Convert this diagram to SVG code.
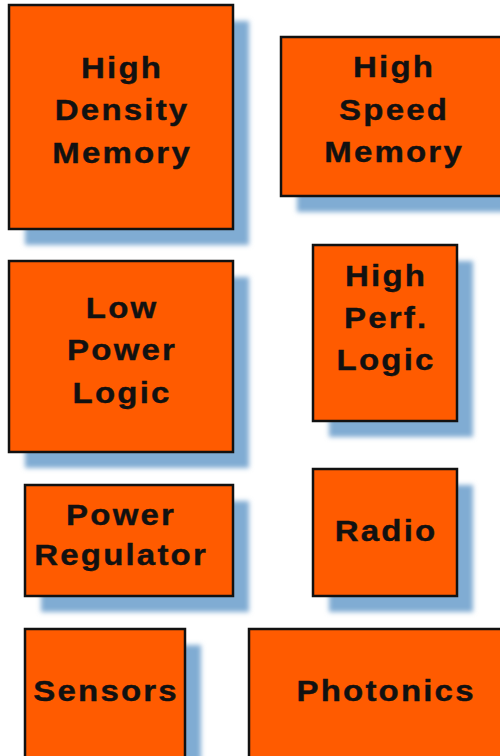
<svg xmlns="http://www.w3.org/2000/svg" width="500" height="756" viewBox="0 0 500 756">
<defs>
<filter id="blur" x="-20%" y="-20%" width="140%" height="140%"><feGaussianBlur stdDeviation="2.5"/></filter>
<style>
.sh{fill:#80acd3;filter:url(#blur)}
.bx{fill:#ff5b00;stroke:#111;stroke-width:2.5}
.t{font-family:"Liberation Sans",Arial,sans-serif;font-weight:bold;font-size:30px;letter-spacing:2px;fill:#111;stroke:#111;stroke-width:0.4;text-anchor:middle}
</style>
</defs>
<rect width="500" height="756" fill="#fff"/>
<g id="high-density-memory">
<rect class="sh" x="25" y="21" width="224" height="224"/>
<rect class="bx" x="9" y="5" width="224" height="224"/>
<g transform="matrix(1.1 0 0 1 122.1 0)">
<text class="t" x="0" y="78">High</text>
<text class="t" x="0" y="120.5">Density</text>
<text class="t" x="0" y="163">Memory</text>
</g>
</g>
<g id="high-speed-memory">
<rect class="sh" x="297" y="53" width="225" height="159"/>
<rect class="bx" x="281" y="37" width="225" height="159"/>
<g transform="matrix(1.1 0 0 1 394.1 0)">
<text class="t" x="0" y="77.5">High</text>
<text class="t" x="0" y="120">Speed</text>
<text class="t" x="0" y="162.5">Memory</text>
</g>
</g>
<g id="low-power-logic">
<rect class="sh" x="25" y="277" width="224" height="191"/>
<rect class="bx" x="9" y="261" width="224" height="191"/>
<g transform="matrix(1.1 0 0 1 122.1 0)">
<text class="t" x="0" y="318">Low</text>
<text class="t" x="0" y="360.5">Power</text>
<text class="t" x="0" y="403">Logic</text>
</g>
</g>
<g id="high-perf-logic">
<rect class="sh" x="329" y="261" width="144" height="176"/>
<rect class="bx" x="313" y="245" width="144" height="176"/>
<g transform="matrix(1.1 0 0 1 386.1 0)">
<text class="t" x="0" y="286">High</text>
<text class="t" x="0" y="328">Perf.</text>
<text class="t" x="0" y="370">Logic</text>
</g>
</g>
<g id="power-regulator">
<rect class="sh" x="41" y="501" width="208" height="111"/>
<rect class="bx" x="25" y="485" width="208" height="111"/>
<g transform="matrix(1.1 0 0 1 121.1 0)">
<text class="t" x="0" y="525">Power</text>
<text class="t" x="0" y="565">Regulator</text>
</g>
</g>
<g id="radio">
<rect class="sh" x="329" y="485" width="144" height="127"/>
<rect class="bx" x="313" y="469" width="144" height="127"/>
<g transform="matrix(1.1 0 0 1 386.1 0)">
<text class="t" x="0" y="541.5">Radio</text>
</g>
</g>
<g id="sensors">
<rect class="sh" x="41" y="645" width="160" height="141"/>
<rect class="bx" x="25" y="629" width="160" height="141"/>
<g transform="matrix(1.1 0 0 1 106.1 0)">
<text class="t" x="0" y="701.5">Sensors</text>
</g>
</g>
<g id="photonics">
<rect class="sh" x="265" y="645" width="271" height="141"/>
<rect class="bx" x="249" y="629" width="271" height="141"/>
<g transform="matrix(1.1 0 0 1 386.1 0)">
<text class="t" x="0" y="701.5">Photonics</text>
</g>
</g>
<g id="connectors"/>
</svg>
